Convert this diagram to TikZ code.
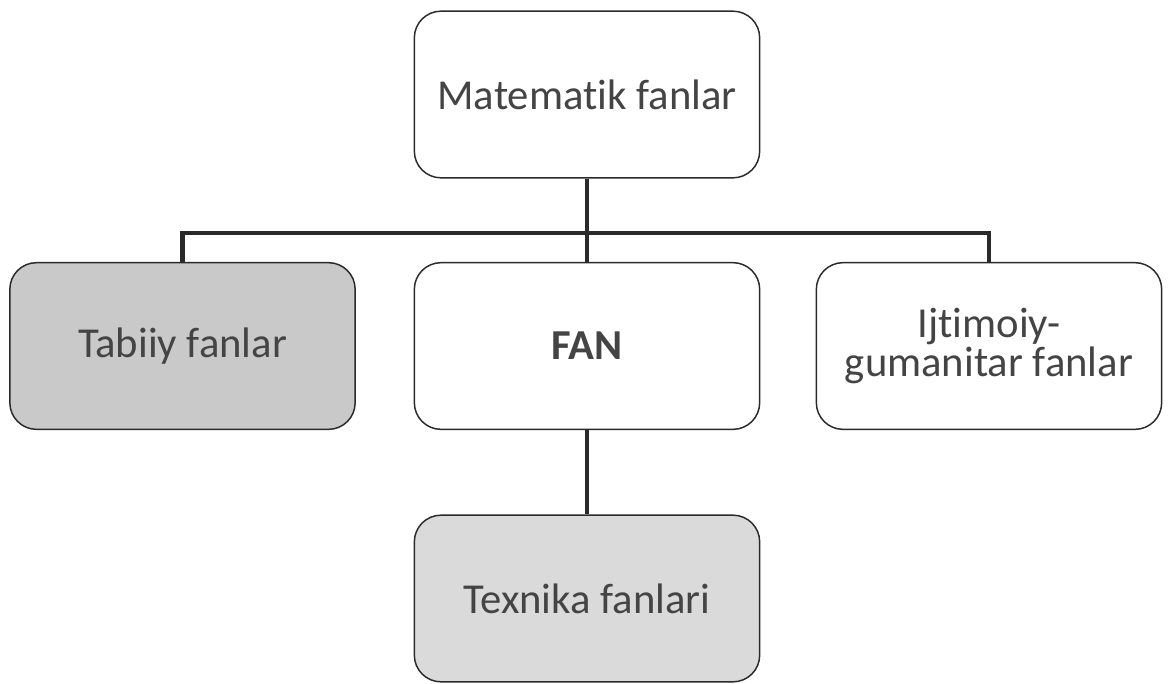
\documentclass[tikz,border=0pt]{standalone}
\usepackage{fontspec}
\setmainfont[Ligatures=NoCommon]{Carlito}
\usepackage{xcolor}
\usepackage{tikz}
\usetikzlibrary{positioning,calc}

\definecolor{inkgray}{HTML}{444444}
\definecolor{linegray}{HTML}{2A2A2A}
\definecolor{darkfill}{HTML}{C9C9C9}
\definecolor{lightfill}{HTML}{DADADA}

\begin{document}
\begin{tikzpicture}[x=0.75pt, y=-0.75pt,
    fanbox/.style={draw=linegray, line width=1.1pt, rounded corners=20pt,
        minimum width=259pt, minimum height=125pt, align=center,
        text=inkgray, font=\fontsize{32}{29}\selectfont, fill=white},
    link/.style={draw=linegray, line width=3.2pt}]
    \useasboundingbox (0,0) rectangle (1173,683);

    % Boxes
    \node[fanbox] (mat) at (587,94.5) {Matematik fanlar};
    \node[fanbox, fill=darkfill] (tab) at (182.5,346) {Tabiiy fanlar};
    \node[fanbox] (fan) at (587,346) {\textbf{FAN}};
    \node[fanbox] (ijt) at (989,346) {Ijtimoiy-\\gumanitar fanlar};
    \node[fanbox, fill=lightfill] (tex) at (587,598.5) {Texnika fanlari};

    % Connectors
    \coordinate (bus) at (587,233);
    \draw[link] (mat.south) -- (fan.north);
    \draw[link] (tab.north) |- (bus) -| (ijt.north);
    \draw[link] (fan.south) -- (tex.north);
\end{tikzpicture}
\end{document}
